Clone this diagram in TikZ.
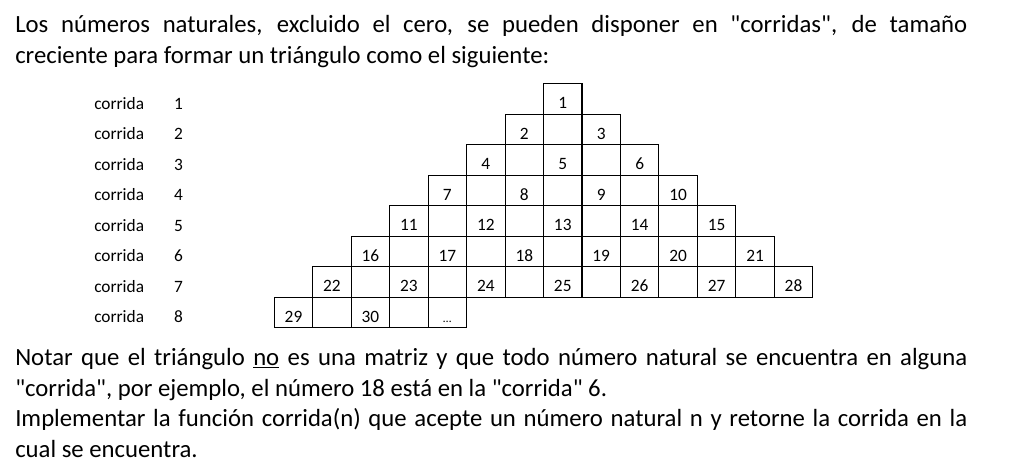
\documentclass[tikz,border=0pt]{standalone}
\usepackage{fontspec}
\setmainfont{Carlito}[Ligatures=TeXOff]
\tikzset{
  cellbox/.style={draw, line width=0.8pt, minimum width=28.85pt, inner xsep=0pt, inner ysep=0pt,
    text height=18.75pt, text depth=4.12pt, font=\fontsize{13}{15}\selectfont},
  rowlabel/.style={anchor=base west, inner sep=0pt, font=\fontsize{13}{15}\selectfont},
  rownum/.style={anchor=base, inner sep=0pt, font=\fontsize{13}{15}\selectfont},
  para/.style={anchor=base west, inner sep=0pt, text width=714pt, align=justify,
    font=\fontsize{18.55}{23.1}\selectfont}
}
\begin{document}
\begin{tikzpicture}[x=0.75pt,y=-0.75pt]
\useasboundingbox (0,0) rectangle (1012,464);
% intro text
\node[para] (intro) at (15,32.3) {Los números naturales, excluido el cero, se pueden disponer en "corridas", de tamaño\linebreak creciente para formar un triángulo como el siguiente:};
% triangle
\foreach \r in {1,...,8}{
  \pgfmathtruncatemacro{\s}{8-\r}
  \pgfmathtruncatemacro{\n}{\r==8 ? 4 : 2*\r-2}
  \pgfmathtruncatemacro{\first}{\r*(\r-1)/2+1}
  \pgfmathsetmacro{\ybot}{84.3+\r*30.5}
  \pgfmathsetmacro{\ylab}{84.3+\r*30.5-5.5}
  \node[rowlabel] (lab\r) at (94,\ylab) {corrida};
  \node[rownum] (num\r) at (178.5,\ylab) {\r};
  \foreach \j in {0,...,\n}{
    \pgfmathtruncatemacro{\odd}{mod(\j,2)}
    \pgfmathtruncatemacro{\val}{\first+\j/2}
    \pgfmathsetmacro{\xc}{274.3+(\s+\j+0.5)*38.46}
    \ifnum\odd=0
      \ifnum\val=31
        \node[cellbox, anchor=south] (c-\r-\j) at (\xc,\ybot) {\fontsize{9}{10}\selectfont\dots};
      \else
        \node[cellbox, anchor=south] (c-\r-\j) at (\xc,\ybot) {\val};
      \fi
    \else
      \node[cellbox, anchor=south] (c-\r-\j) at (\xc,\ybot) {};
    \fi
  }
}
% closing text
\node[para] (notes) at (15,365.3) {Notar que el triángulo \underline{no} es una matriz y que todo número natural se encuentra en alguna\linebreak "corrida", por ejemplo, el número 18 está en la "corrida" 6.\\
Implementar la función corrida(n) que acepte un número natural n y retorne la corrida en la\linebreak cual se encuentra.};
\end{tikzpicture}
\end{document}
